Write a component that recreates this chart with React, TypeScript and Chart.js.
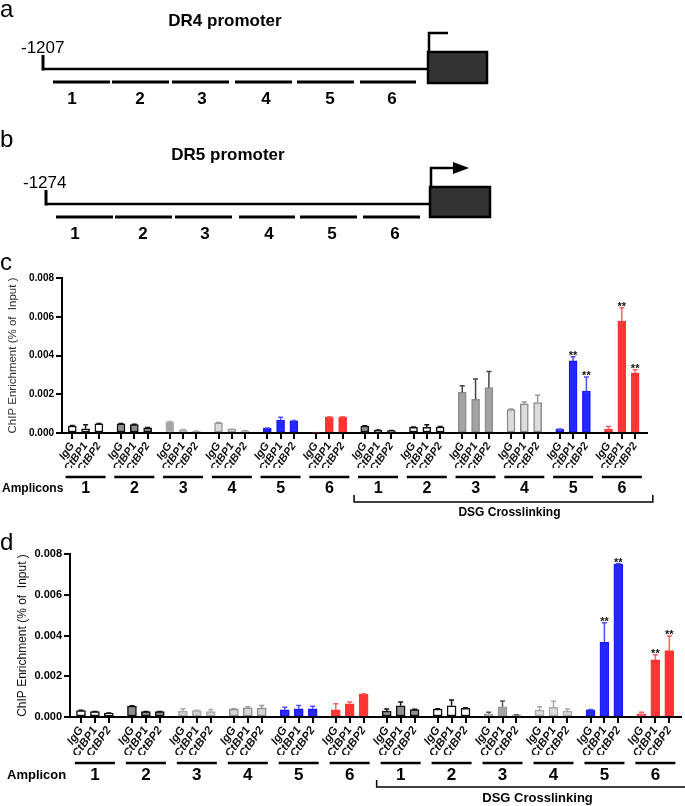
import React, { useEffect, useRef } from "react";
import { Chart, registerables } from "chart.js";

Chart.register(...registerables);

// ---------------- data ----------------
const amplicons = ["1", "2", "3", "4", "5", "6", "1", "2", "3", "4", "5", "6"];
const antibodies = ["IgG", "CtBP1", "CtBP2"];
const yTickValues = [0, 0.002, 0.004, 0.006, 0.008];
const yTitle = "ChIP Enrichment (% of  Input )";
const dsgLabel = "DSG Crosslinking";
const dsgFirstGroup = 6;

// panel c (DR4 promoter)
const cIgG = [0.00036, 0.00047, 0.00058, 0.00052, 0.00024, 0.00004, 0.00036, 0.00029, 0.0021, 0.00121, 0.00019, 0.00019];
const cCtBP1 = [0.00022, 0.00043, 0.00017, 0.00019, 0.00067, 0.00081, 0.00014, 0.00029, 0.00174, 0.0015, 0.00372, 0.00578];
const cCtBP2 = [0.00047, 0.00027, 0.00009, 0.0001, 0.00063, 0.00081, 0.00012, 0.00031, 0.00234, 0.00157, 0.00217, 0.00311];
const cIgGSd = [0.00003, 0.00002, 0.00002, 0.00002, 0.00002, 0, 0.00002, 0.00002, 0.00034, 0.00003, 0.00002, 0.00015];
const cCtBP1Sd = [0.00021, 0.00002, 0.00001, 0.00001, 0.00014, 0.00003, 0.00001, 0.00013, 0.00105, 0.0001, 0.00022, 0.00069];
const cCtBP2Sd = [0.00002, 0.00002, 0.00001, 0.00001, 0.00002, 0.00003, 0.00001, 0.00002, 0.00084, 0.00038, 0.00072, 0.00016];
const cStarsIgG = ["", "", "", "", "", "", "", "", "", "", "", ""];
const cStarsCtBP1 = ["", "", "", "", "", "", "", "", "", "", "**", "**"];
const cStarsCtBP2 = ["", "", "", "", "", "", "", "", "", "", "**", "**"];

// panel d (DR5 promoter)
const dIgG = [0.00032, 0.00053, 0.00029, 0.00039, 0.00035, 0.00035, 0.00029, 0.00039, 0.00016, 0.00034, 0.00035, 0.00016];
const dCtBP1 = [0.00026, 0.00026, 0.00031, 0.00045, 0.0004, 0.00065, 0.00055, 0.00055, 0.0005, 0.00047, 0.00366, 0.0028];
const dCtBP2 = [0.00019, 0.00026, 0.00026, 0.00044, 0.0004, 0.00111, 0.00037, 0.00042, 0.0001, 0.00029, 0.0075, 0.00326];
const dIgGSd = [0.00001, 0.00002, 0.00011, 0.00001, 0.00013, 0.0003, 0.0001, 0.00001, 0.00007, 0.00016, 0.00002, 0.00007];
const dCtBP1Sd = [0.00001, 0.00001, 0.00002, 0.00005, 0.00016, 0.00009, 0.00019, 0.00029, 0.00029, 0.0003, 0.00097, 0.00026];
const dCtBP2Sd = [0.00001, 0.00001, 0.00011, 0.00012, 0.00013, 0.00003, 0.00001, 0.00003, 0.00001, 0.0001, 0.00003, 0.00072];
const dStarsIgG = ["", "", "", "", "", "", "", "", "", "", "", ""];
const dStarsCtBP1 = ["", "", "", "", "", "", "", "", "", "", "**", "**"];
const dStarsCtBP2 = ["", "", "", "", "", "", "", "", "", "", "**", "**"];

// ---------------- styles ----------------
const FONT = "Arial, 'Liberation Sans', Helvetica, sans-serif";
const GROUP_STEP = 3.66; // bar slots per amplicon group
const BLUE = "#2626ff";
const RED = "#ff3434";

const cFills = ["#ffffff", "#8f8f8f", "#a3a3a3", "#dcdcdc", BLUE, RED, "#8f8f8f", "#ffffff", "#a3a3a3", "#dcdcdc", BLUE, RED];
const cBorders = ["#111", "#111", "#b0b0b0", "#9a9a9a", "#1a1aff", RED, "#111", "#111", "#8c8c8c", "#8c8c8c", "#1a1aff", RED];
const cErrColors = ["#111", "#111", "#aaa", "#999", "#5050ff", "#ff6060", "#111", "#111", "#444", "#999", "#5050ff", "#ff6060"];

const dFills = ["#ffffff", "#8f8f8f", "#d0d0d0", "#d8d8d8", BLUE, RED, "#8f8f8f", "#ffffff", "#a6a6a6", "#dcdcdc", BLUE, RED];
const dBorders = ["#111", "#111", "#a8a8a8", "#8c8c8c", "#1a1aff", RED, "#111", "#111", "#999", "#aaa", "#1a1aff", RED];
const dErrColors = ["#111", "#111", "#aaa", "#999", "#5050ff", "#ff6060", "#111", "#111", "#555", "#aaa", "#5050ff", "#ff6060"];

type PanelCfg = {
  top: number;
  height: number;
  values: number[][];
  errors: number[][];
  stars: string[][];
  fills: string[];
  borders: string[];
  errColors: string[];
  padding: { top: number; left: number; right: number; bottom: number };
  yAxisWidth: number;
  xAxisHeight: number;
  xMin: number;
  xMax: number;
  barWidth: number;
  tickFont: number;
  labelFont: number;
  titleFont: number;
  titlePad: number;
  titleColor: string;
  ampLabel: string;
  ampX: number;
  numFont: number;
  textFont: number;
  ulOff: number;
  numOff: number;
  brOff: number;
  dsgOff: number;
};

const panelC: PanelCfg = {
  top: 260,
  height: 270,
  values: [cIgG, cCtBP1, cCtBP2],
  errors: [cIgGSd, cCtBP1Sd, cCtBP2Sd],
  stars: [cStarsIgG, cStarsCtBP1, cStarsCtBP2],
  fills: cFills,
  borders: cBorders,
  errColors: cErrColors,
  padding: { top: 18, left: 6, right: 38, bottom: 62 },
  yAxisWidth: 56,
  xAxisHeight: 35,
  xMin: -0.77,
  xMax: 43.15,
  barWidth: 8,
  tickFont: 10,
  labelFont: 11,
  titleFont: 11.5,
  titlePad: 0,
  titleColor: "#333",
  ampLabel: "Amplicons",
  ampX: 2,
  numFont: 16,
  textFont: 12,
  ulOff: 44,
  numOff: 56,
  brOff: 69,
  dsgOff: 80,
};

const panelD: PanelCfg = {
  top: 530,
  height: 276,
  values: [dIgG, dCtBP1, dCtBP2],
  errors: [dIgGSd, dCtBP1Sd, dCtBP2Sd],
  stars: [dStarsIgG, dStarsCtBP1, dStarsCtBP2],
  fills: dFills,
  borders: dBorders,
  errColors: dErrColors,
  padding: { top: 24, left: 10, right: 4, bottom: 51 },
  yAxisWidth: 60,
  xAxisHeight: 38,
  xMin: -0.79,
  xMax: 43.1,
  barWidth: 9,
  tickFont: 11,
  labelFont: 11.5,
  titleFont: 12,
  titlePad: 5,
  titleColor: "#111",
  ampLabel: "Amplicon",
  ampX: 7,
  numFont: 17,
  textFont: 13,
  ulOff: 46,
  numOff: 58,
  brOff: 70,
  dsgOff: 81,
};

const xOf = (gi: number, ai: number) => gi * GROUP_STEP + ai;

function makeOverlay(p: PanelCfg) {
  return {
    id: "overlay",
    afterDatasetsDraw(chart: any) {
      const { ctx, scales } = chart;
      const x = scales.x;
      const y = scales.y;
      ctx.save();
      p.values.forEach((vals, ai) => {
        vals.forEach((v, gi) => {
          const e = p.errors[ai][gi];
          const px = x.getPixelForValue(xOf(gi, ai));
          const yb = y.getPixelForValue(v);
          const yt = y.getPixelForValue(v + e);
          if (e > 0) {
            ctx.strokeStyle = p.errColors[gi];
            ctx.lineWidth = 1.5;
            ctx.beginPath();
            ctx.moveTo(px, yb);
            ctx.lineTo(px, yt);
            ctx.moveTo(px - 2.5, yt);
            ctx.lineTo(px + 2.5, yt);
            ctx.stroke();
          }
          const s = p.stars[ai][gi];
          if (s) {
            ctx.fillStyle = "#111";
            ctx.font = `bold 11px ${FONT}`;
            ctx.textAlign = "center";
            ctx.textBaseline = "alphabetic";
            ctx.fillText(s, px, yt + 2);
          }
        });
      });
      ctx.restore();
    },
    afterDraw(chart: any) {
      const { ctx, scales, chartArea } = chart;
      const x = scales.x;
      const base = chartArea.bottom;
      ctx.save();
      ctx.strokeStyle = "#000";
      ctx.fillStyle = "#000";
      ctx.lineWidth = 2.5;
      amplicons.forEach((name, gi) => {
        const cx = x.getPixelForValue(xOf(gi, 1));
        ctx.beginPath();
        ctx.moveTo(cx - 20, base + p.ulOff);
        ctx.lineTo(cx + 20, base + p.ulOff);
        ctx.stroke();
        ctx.font = `bold ${p.numFont}px ${FONT}`;
        ctx.textAlign = "center";
        ctx.textBaseline = "middle";
        ctx.fillText(name, cx, base + p.numOff);
      });
      ctx.font = `bold ${p.textFont}px ${FONT}`;
      ctx.textAlign = "left";
      ctx.textBaseline = "middle";
      ctx.fillText(p.ampLabel, p.ampX, base + p.numOff);
      // bracket
      const x1 = x.getPixelForValue(xOf(dsgFirstGroup, 1)) - 24;
      const x2 = x.getPixelForValue(xOf(amplicons.length - 1, 1)) + 31;
      ctx.lineWidth = 1.5;
      ctx.beginPath();
      ctx.moveTo(x1, base + p.brOff - 7);
      ctx.lineTo(x1, base + p.brOff);
      ctx.lineTo(x2, base + p.brOff);
      ctx.lineTo(x2, base + p.brOff - 7);
      ctx.stroke();
      ctx.textAlign = "center";
      ctx.fillText(dsgLabel, (x1 + x2) / 2 + 6, base + p.dsgOff);
      ctx.restore();
    },
  };
}

function BarPanel({ p }: { p: PanelCfg }) {
  const ref = useRef<HTMLCanvasElement>(null);
  useEffect(() => {
    const canvas = ref.current;
    if (!canvas) return;
    const tickXs = amplicons.flatMap((_, gi) => antibodies.map((_a, ai) => xOf(gi, ai)));
    const datasets = antibodies.map((ab, ai) => ({
      label: ab,
      data: p.values[ai].map((v, gi) => ({ x: xOf(gi, ai), y: v })),
      backgroundColor: p.fills,
      borderColor: p.borders,
      borderWidth: 1.5,
      borderSkipped: false,
      barThickness: p.barWidth,
      grouped: false,
    }));
    const chart = new Chart(canvas, {
      type: "bar",
      data: { datasets } as any,
      options: {
        responsive: false,
        animation: false,
        devicePixelRatio: 1,
        layout: { padding: p.padding },
        plugins: { legend: { display: false }, tooltip: { enabled: false } },
        scales: {
          x: {
            type: "linear",
            min: p.xMin,
            max: p.xMax,
            offset: false,
            afterBuildTicks: (s: any) => {
              s.ticks = tickXs.map((v) => ({ value: v }));
            },
            afterFit: (s: any) => {
              s.height = p.xAxisHeight;
              s.paddingLeft = 0;
              s.paddingRight = 0;
            },
            grid: {
              display: true,
              drawOnChartArea: false,
              drawTicks: true,
              tickLength: 6,
              color: "#000",
              lineWidth: 2,
              offset: false,
            },
            border: { display: true, color: "#000", width: 2 },
            ticks: {
              autoSkip: false,
              minRotation: 55,
              maxRotation: 55,
              padding: 1,
              color: "#111",
              font: { family: FONT, size: p.labelFont, weight: "bold", style: "italic" },
              callback: (_v: any, i: number) => antibodies[i % antibodies.length],
            },
          },
          y: {
            type: "linear",
            min: 0,
            max: 0.008,
            afterBuildTicks: (s: any) => {
              s.ticks = yTickValues.map((v) => ({ value: v }));
            },
            afterFit: (s: any) => {
              s.width = p.yAxisWidth;
            },
            grid: {
              display: true,
              drawOnChartArea: false,
              drawTicks: true,
              tickLength: 6,
              color: "#000",
              lineWidth: 2,
            },
            border: { display: true, color: "#000", width: 2 },
            ticks: {
              padding: 2,
              color: "#000",
              font: { family: FONT, size: p.tickFont, weight: "bold" },
              callback: (v: any) => Number(v).toFixed(3),
            },
            title: {
              display: true,
              text: yTitle,
              color: p.titleColor,
              font: { family: FONT, size: p.titleFont },
              padding: { top: p.titlePad, bottom: 0 },
            },
          },
        },
      } as any,
      plugins: [makeOverlay(p)],
    });
    return () => chart.destroy();
  }, [p]);
  return (
    <canvas
      ref={ref}
      width={685}
      height={p.height}
      style={{ position: "absolute", left: 0, top: p.top, width: 685, height: p.height, display: "block" }}
    />
  );
}

// ---------------- promoter diagrams (panels a and b) ----------------
type PromoterLayout = {
  letter: string;
  letterY: number;
  title: string;
  titleX: number;
  titleY: number;
  start: string;
  startX: number;
  startY: number;
  lineX0: number;
  lineY: number;
  boxX: number;
  boxY: number;
  boxW: number;
  boxH: number;
  arrowTopY: number;
  arrowEndX: number;
  arrowHead: boolean;
  segY: number;
  segs: number[][];
  numY: number;
  numXs: number[];
};

const promoterA: PromoterLayout = {
  letter: "a",
  letterY: 17,
  title: "DR4 promoter",
  titleX: 225,
  titleY: 26,
  start: "-1207",
  startX: 21,
  startY: 53,
  lineX0: 43,
  lineY: 69,
  boxX: 428,
  boxY: 52,
  boxW: 59,
  boxH: 31,
  arrowTopY: 33,
  arrowEndX: 448,
  arrowHead: false,
  segY: 82,
  segs: [[53, 110], [112, 169], [172, 229], [235, 292], [297, 354], [360, 416]],
  numY: 104,
  numXs: [72, 140, 202, 266, 330, 392],
};

const promoterB: PromoterLayout = {
  letter: "b",
  letterY: 147,
  title: "DR5 promoter",
  titleX: 228,
  titleY: 160,
  start: "-1274",
  startX: 23,
  startY: 188,
  lineX0: 46,
  lineY: 204,
  boxX: 430,
  boxY: 187,
  boxW: 60,
  boxH: 30,
  arrowTopY: 168,
  arrowEndX: 455,
  arrowHead: true,
  segY: 217,
  segs: [[56, 113], [115, 172], [175, 232], [239, 295], [300, 357], [363, 420]],
  numY: 239,
  numXs: [75, 143, 205, 269, 332, 395],
};

const segNames = ["1", "2", "3", "4", "5", "6"];

function Promoter({ L }: { L: PromoterLayout }) {
  const ax = L.boxX + 1;
  return (
    <g fontFamily={FONT}>
      <text x={0} y={L.letterY} fontSize={24}>{L.letter}</text>
      <text x={L.titleX} y={L.titleY} fontSize={17} fontWeight="bold" textAnchor="middle">{L.title}</text>
      <text x={L.startX} y={L.startY} fontSize={17}>{L.start}</text>
      <line x1={L.lineX0} y1={L.lineY - 14} x2={L.lineX0} y2={L.lineY + 1.5} stroke="#000" strokeWidth={3} />
      <line x1={L.lineX0} y1={L.lineY} x2={L.boxX} y2={L.lineY} stroke="#000" strokeWidth={2.5} />
      <rect x={L.boxX} y={L.boxY} width={L.boxW} height={L.boxH} fill="#333" stroke="#000" strokeWidth={2.5} />
      <polyline
        points={`${ax},${L.boxY} ${ax},${L.arrowTopY} ${L.arrowEndX},${L.arrowTopY}`}
        fill="none"
        stroke="#000"
        strokeWidth={2.5}
      />
      {L.arrowHead && (
        <polygon
          points={`${L.arrowEndX - 2},${L.arrowTopY - 6} ${L.arrowEndX + 14},${L.arrowTopY} ${L.arrowEndX - 2},${L.arrowTopY + 6}`}
          fill="#000"
        />
      )}
      {L.segs.map((s, i) => (
        <line key={"s" + i} x1={s[0]} y1={L.segY} x2={s[1]} y2={L.segY} stroke="#000" strokeWidth={3} />
      ))}
      {L.numXs.map((nx, i) => (
        <text key={"n" + i} x={nx} y={L.numY} fontSize={17} fontWeight="bold" textAnchor="middle">
          {segNames[i]}
        </text>
      ))}
    </g>
  );
}

export default function App() {
  return (
    <div
      style={{
        position: "absolute",
        left: 0,
        top: 0,
        width: 685,
        height: 806,
        background: "#fff",
        overflow: "hidden",
      }}
    >
      <BarPanel p={panelC} />
      <BarPanel p={panelD} />
      <svg
        width={685}
        height={806}
        style={{ position: "absolute", left: 0, top: 0, pointerEvents: "none" }}
      >
        <Promoter L={promoterA} />
        <Promoter L={promoterB} />
        <text x={0} y={270} fontSize={24} fontFamily={FONT}>c</text>
        <text x={0} y={550} fontSize={24} fontFamily={FONT}>d</text>
      </svg>
    </div>
  );
}
